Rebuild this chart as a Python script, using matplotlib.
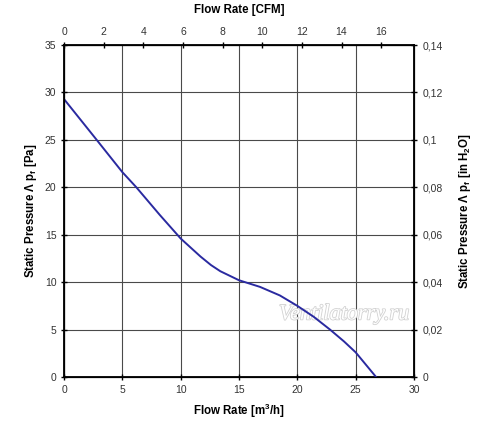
import matplotlib
matplotlib.use("Agg")
import matplotlib.pyplot as plt
import matplotlib.patheffects as pe

plt.rcParams['font.family'] = ['Liberation Sans', 'DejaVu Sans']
plt.rcParams['mathtext.default'] = 'regular'

# fan curve: flow [m3/h] vs static pressure [Pa]
flow_m3h = [0, 2.8, 5, 6.2, 8.2, 10, 11.7, 12.6, 13.4, 15, 16.8, 18.5, 20,
            21.4, 22.8, 24, 25, 26.75]
pressure_pa = [29.3, 25, 21.6, 20, 17.1, 14.6, 12.7, 11.8, 11.15, 10.2, 9.5,
               8.6, 7.5, 6.35, 5, 3.75, 2.6, 0]

x_ticks = [0, 5, 10, 15, 20, 25, 30]
y_ticks = [0, 5, 10, 15, 20, 25, 30, 35]
cfm_ticks = [0, 2, 4, 6, 8, 10, 12, 14, 16]
inh2o_ticks = [0, 0.02, 0.04, 0.06, 0.08, 0.1, 0.12, 0.14]
inh2o_labels = ['0', '0,02', '0,04', '0,06', '0,08', '0,1', '0,12', '0,14']

M3H_PER_CFM = 1.699

fig = plt.figure(figsize=(5, 4.29), dpi=100)
ax = fig.add_axes([0.128, 0.1212, 0.7, 0.7739])

ax.plot(flow_m3h, pressure_pa, color='#2a2aa0', lw=1.4, zorder=3,
        solid_joinstyle='round')
ax.set_xlim(0, 30)
ax.set_ylim(0, 35)
ax.set_xticks(x_ticks)
ax.set_yticks(y_ticks)
ax.grid(True, color='#4a4a4a', lw=0.8)
for s in ax.spines.values():
    s.set_linewidth(1.3)
ax.tick_params(direction='inout', length=5, width=1, labelsize=7.5,
               labelcolor='#333333', pad=3)
ax.set_xlabel('Flow Rate [m$^3$/h]', fontsize=8.3, fontweight='bold', labelpad=5)
ax.set_ylabel('Static Pressure Λ p$_f$ [Pa]', fontsize=8.3, fontweight='bold',
              labelpad=4)

top = ax.twiny()
top.set_xlim(0, 30 / M3H_PER_CFM)
top.set_xticks(cfm_ticks)
top.tick_params(direction='inout', length=5, width=1, labelsize=7.5,
                labelcolor='#333333', pad=3)
top.set_xlabel('Flow Rate [CFM]', fontsize=8.3, fontweight='bold', labelpad=10)

right = ax.twinx()
right.set_ylim(0, 0.14)
right.set_yticks(inh2o_ticks)
right.set_yticklabels(inh2o_labels)
right.tick_params(direction='inout', length=5, width=1, labelsize=7.5,
                  labelcolor='#333333', pad=4)
right.set_ylabel('Static Pressure Λ p$_f$ [in H$_2$O]', fontsize=8.3,
                 fontweight='bold', labelpad=10)

ax.text(0.8, 0.187, 'Ventilatorry.ru', transform=ax.transAxes, fontsize=16,
        style='italic', family='Liberation Serif', color='white', ha='center',
        va='center', zorder=2.5,
        path_effects=[pe.withStroke(linewidth=1.2, foreground='#d2d2d2')])

fig.savefig('out.png', dpi=100)
